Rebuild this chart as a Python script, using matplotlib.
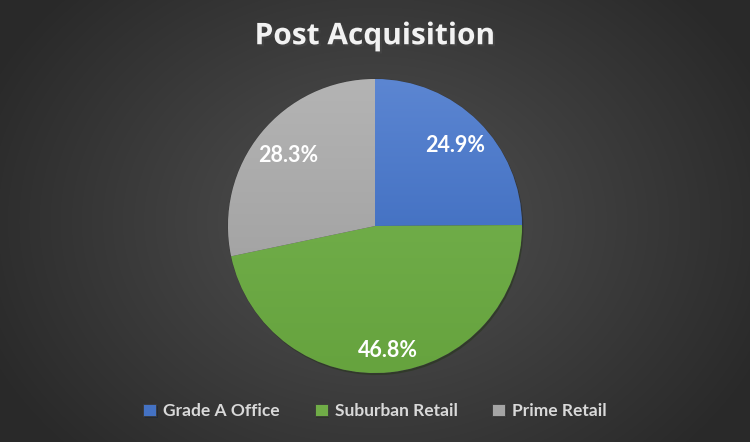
import numpy as np
import matplotlib.pyplot as plt
import matplotlib.patheffects as pe
from matplotlib.colors import LinearSegmentedColormap

# Données
categories = ['Grade A Office', 'Suburban Retail', 'Prime Retail']
shares = [24.9, 46.8, 28.3]
colors = ['#4472C4', '#70AD47', '#A5A5A5']
tops = ['#5C86D2', '#78B552', '#B4B4B4']
bottoms = ['#2F60B6', '#66A33E', '#9A9A9A']
pct_dist = [0.77, 0.85, 0.76]

plt.rcParams['font.family'] = ['Lato', 'DejaVu Sans']

fig = plt.figure(figsize=(7.5, 4.42), dpi=100)

# Fond avec dégradé radial
bg = fig.add_axes([0, 0, 1, 1])
yy, xx = np.mgrid[0:442, 0:750]
r = np.sqrt(((xx - 375) / 420.0) ** 2 + ((yy - 221) / 330.0) ** 2)
bg_cmap = LinearSegmentedColormap.from_list('bg', ['#525252', '#2a2a2a'])
bg.imshow(np.clip(r, 0, 1), cmap=bg_cmap, vmin=0, vmax=1, aspect='auto')
bg.axis('off')

ax = fig.add_axes([0.5 - 0.196, 0.4887 - 0.3326, 0.392, 0.6652])
wedges, texts, autotexts = ax.pie(
    shares, colors=colors, startangle=90, counterclock=False,
    autopct='%1.1f%%', pctdistance=0.77,
    wedgeprops=dict(linewidth=0.6, edgecolor='#3a3a3a'),
    textprops=dict(color='white', fontsize=15.5, fontweight='bold'))
ax.set_xlim(-1, 1)
ax.set_ylim(-1, 1)

# Dégradé vertical dans chaque part
for w, c_top, c_bot in zip(wedges, tops, bottoms):
    cm = LinearSegmentedColormap.from_list('w', [c_top, c_bot])
    grad = np.linspace(0, 1, 256).reshape(-1, 1)
    im = ax.imshow(grad, cmap=cm, extent=[-1, 1, -1, 1], origin='upper',
                   aspect='auto', zorder=1)
    im.set_clip_path(w)
    w.set_zorder(0.5)
    w.set_path_effects([pe.SimplePatchShadow(offset=(1, -1.5), alpha=0.5), pe.Normal()])

for w, t, d in zip(wedges, autotexts, pct_dist):
    ang = np.deg2rad((w.theta1 + w.theta2) / 2)
    t.set_position((d * np.cos(ang), d * np.sin(ang)))
    t.set_zorder(3)

fig.text(0.5, 0.918, 'Post Acquisition', ha='center', va='center',
         color='#f2f2f2', fontsize=21.5, fontweight='bold', family=['Open Sans', 'DejaVu Sans'],
         path_effects=[pe.withSimplePatchShadow(offset=(1.5, -1.5), alpha=0.6)])

leg = fig.legend(wedges, categories, loc='center', bbox_to_anchor=(0.5, 0.07),
                 ncol=3, frameon=False, handlelength=0.75, handleheight=0.75,
                 columnspacing=2.0, handletextpad=0.4,
                 prop=dict(size=12.5, weight='bold'))
for t in leg.get_texts():
    t.set_color('#d9d9d9')

fig.savefig('out.png', dpi=100)
